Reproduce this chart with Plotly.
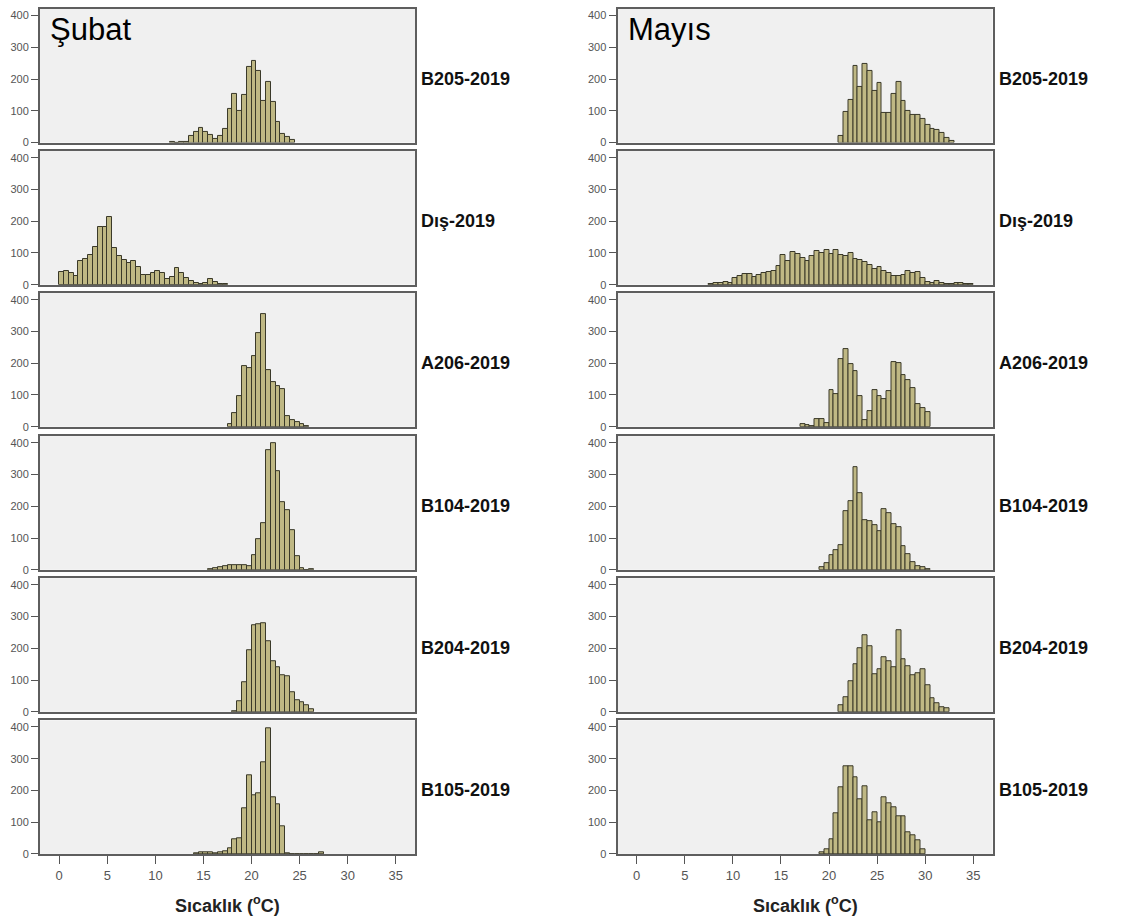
import plotly.graph_objects as go

# ---------------- data ----------------
temp_ticks = [0, 5, 10, 15, 20, 25, 30, 35]
count_ticks = [0, 100, 200, 300, 400]
bin_width = 0.5

stations = ["B205-2019", "Dış-2019", "A206-2019", "B104-2019", "B204-2019", "B105-2019"]
months = ["Şubat", "Mayıs"]

# Şubat (February) histograms: first bin's left edge and counts per 0.5 °C bin
subat_b205_start = 11.5
subat_b205 = [2, 0, 2, 2, 21, 35, 46, 35, 25, 12, 21, 42, 106, 153, 101, 150, 239, 257,
              225, 132, 191, 129, 66, 28, 18, 8]
subat_dis_start = 0.0
subat_dis = [40, 42, 36, 26, 73, 80, 94, 120, 183, 183, 214, 115, 89, 78, 68, 76, 57, 31,
             29, 36, 44, 36, 18, 24, 52, 36, 21, 10, 5, 2, 5, 18, 7, 3, 2]
subat_a206_start = 17.5
subat_a206 = [8, 42, 96, 192, 185, 224, 294, 354, 179, 141, 127, 117, 35, 22, 15, 8, 3]
subat_b104_start = 15.5
subat_b104 = [3, 5, 8, 12, 15, 14, 15, 15, 13, 47, 96, 148, 377, 400, 312, 213, 187, 125,
              42, 5, 0, 2]
subat_b204_start = 18.0
subat_b204 = [3, 32, 92, 194, 272, 276, 280, 221, 160, 140, 115, 112, 61, 37, 29, 22, 8]
subat_b105_start = 14.0
subat_b105 = [3, 5, 6, 5, 3, 5, 8, 18, 45, 50, 145, 247, 185, 192, 290, 395, 178, 155, 88,
              2, 0, 0, 0, 0, 0, 0, 4]

# Mayıs (May) histograms
mayis_b205_start = 21.0
mayis_b205 = [20, 95, 133, 242, 176, 248, 225, 163, 187, 92, 92, 153, 190, 130, 100, 86,
              87, 75, 55, 44, 40, 30, 16, 5]
mayis_dis_start = 7.5
mayis_dis = [2, 4, 6, 9, 5, 20, 28, 32, 34, 24, 30, 36, 40, 42, 60, 92, 74, 102, 95, 84,
             76, 90, 105, 100, 108, 98, 108, 92, 90, 100, 82, 78, 72, 62, 50, 56, 42, 36,
             28, 26, 30, 42, 36, 40, 22, 8, 4, 10, 4, 2, 3, 4, 5, 3, 2]
mayis_a206_start = 17.0
mayis_a206 = [7, 4, 2, 23, 23, 12, 115, 103, 213, 245, 196, 175, 96, 22, 49, 115, 95, 86,
              112, 204, 200, 162, 148, 122, 70, 60, 46]
mayis_b104_start = 19.0
mayis_b104 = [8, 21, 45, 62, 78, 185, 216, 322, 242, 157, 153, 140, 122, 190, 179, 143,
              135, 76, 50, 24, 13, 8, 3]
mayis_b204_start = 21.0
mayis_b204 = [20, 46, 95, 149, 202, 242, 206, 118, 135, 172, 158, 140, 257, 166, 145, 116,
              123, 135, 85, 42, 26, 16, 10]
mayis_b105_start = 19.0
mayis_b105 = [4, 16, 45, 127, 210, 275, 275, 240, 172, 212, 105, 130, 100, 178, 158, 148,
              120, 118, 68, 60, 42, 15]

columns = [
    [(subat_b205_start, subat_b205), (subat_dis_start, subat_dis),
     (subat_a206_start, subat_a206), (subat_b104_start, subat_b104),
     (subat_b204_start, subat_b204), (subat_b105_start, subat_b105)],
    [(mayis_b205_start, mayis_b205), (mayis_dis_start, mayis_dis),
     (mayis_a206_start, mayis_a206), (mayis_b104_start, mayis_b104),
     (mayis_b204_start, mayis_b204), (mayis_b105_start, mayis_b105)],
]

# ---------------- layout geometry (pixels) ----------------
W, H = 1133, 924
col_px = [(40, 415), (617.5, 992.5)]
row_top = [9, 152, 295, 439, 582, 725]
row_h = 134.5

FONT = "Liberation Sans, Arial, Helvetica, sans-serif"
BAR_FILL = "#bfb884"
BAR_LINE = "#3a3929"
FRAME = "#5e5e5e"
TICK_COL = "#555555"

fig = go.Figure()
layout = dict(
    width=W, height=H,
    margin=dict(l=0, r=0, t=0, b=0),
    paper_bgcolor="white",
    plot_bgcolor="#f0f0f0",
    showlegend=False,
    bargap=0,
    font=dict(family=FONT, color="#000"),
)
annotations = []

for c in range(2):
    x0, x1 = col_px[c]
    for r in range(6):
        idx = c * 6 + r + 1
        sfx = "" if idx == 1 else str(idx)
        start, counts = columns[c][r]
        centers = [start + bin_width * (i + 0.5) for i in range(len(counts))]
        fig.add_trace(go.Bar(
            x=centers, y=counts, width=bin_width,
            marker=dict(color=BAR_FILL, line=dict(color=BAR_LINE, width=1)),
            xaxis="x" + sfx, yaxis="y" + sfx,
            name=f"{months[c]} {stations[r]}",
            hovertemplate="%{x}: %{y}<extra></extra>",
        ))
        top = row_top[r]
        bot = top + row_h
        bottom_row = (r == 5)
        layout["xaxis" + sfx] = dict(
            domain=[x0 / W, x1 / W], range=[-2, 37], anchor="y" + sfx,
            showline=True, mirror=True, linecolor=FRAME, linewidth=2,
            showgrid=False, zeroline=False, fixedrange=True,
            tickvals=temp_ticks, ticktext=[str(t) for t in temp_ticks],
            ticks="outside" if bottom_row else "", ticklen=8, tickwidth=1,
            tickcolor=TICK_COL, showticklabels=bottom_row,
            tickfont=dict(size=13, color=TICK_COL, family=FONT),
        )
        layout["yaxis" + sfx] = dict(
            domain=[1 - bot / H, 1 - top / H], range=[0, 421], anchor="x" + sfx,
            showline=True, mirror=True, linecolor=FRAME, linewidth=2,
            showgrid=False, zeroline=False, fixedrange=True,
            tickvals=count_ticks, ticks="outside", ticklen=7, tickwidth=1,
            tickcolor=TICK_COL, tickfont=dict(size=11, color=TICK_COL, family=FONT),
        )
        # station label at right of the panel
        annotations.append(dict(
            x=(x1 + 4) / W, y=1 - (top + row_h / 2 + 3) / H, xref="paper", yref="paper",
            text="<b>" + stations[r] + "</b>", showarrow=False,
            xanchor="left", yanchor="middle",
            font=dict(size=18, family=FONT, color="#111"),
        ))
    # month title inside first panel
    annotations.append(dict(
        x=(x0 + 8) / W, y=1 - 30 / H, xref="paper", yref="paper",
        text=months[c], showarrow=False, xanchor="left", yanchor="middle",
        font=dict(size=31, family=FONT, color="#000"),
    ))
    # x axis title
    annotations.append(dict(
        x=(x0 + x1) / 2 / W, y=1 - 910 / H, xref="paper", yref="paper",
        text="<b>Sıcaklık (<sup>o</sup>C)</b>", showarrow=False,
        xanchor="center", yanchor="middle",
        font=dict(size=18, family=FONT, color="#222"),
    ))

layout["annotations"] = annotations
fig.update_layout(**layout)
fig.write_html(
    "out.html",
    config={"displayModeBar": False},
    post_script="document.body.style.margin='0';document.body.style.padding='0';",
)
